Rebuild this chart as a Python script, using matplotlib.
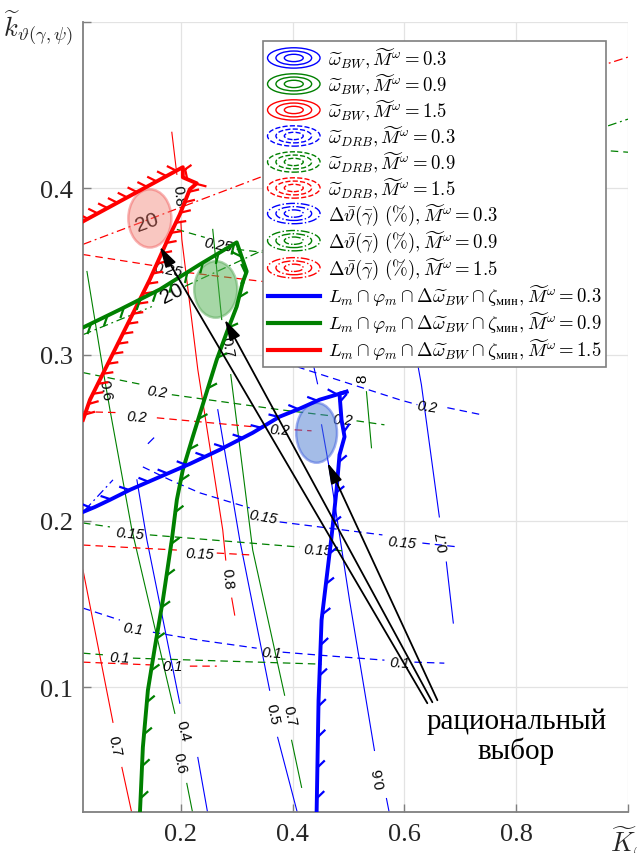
import numpy as np
import matplotlib
matplotlib.use('Agg')
import matplotlib.pyplot as plt
from matplotlib import patheffects
from matplotlib.patches import Ellipse
from matplotlib.lines import Line2D
from matplotlib.legend_handler import HandlerBase

nan = np.nan

# thick boundaries L_m ∩ φ_m ∩ Δω_BW ∩ ζ_мин
red_bnd_x = [0.025, 0.1143, 0.2036, 0.2036, 0.2286, 0.2161, 0.1982, 0.1768, 0.1446, 0.1089, 0.0643, 0.0375, 0.025]
red_bnd_y = [0.3801, 0.3964, 0.4127, 0.4066, 0.4030, 0.3994, 0.3843, 0.3693, 0.3452, 0.3211, 0.2910, 0.2729, 0.2608]
green_top_x = [0.025, 0.0911, 0.1625, 0.2339, 0.30, 0.3179, 0.3107]
green_top_y = [0.3163, 0.3271, 0.3392, 0.3542, 0.3675, 0.3500, 0.3434]
green_side_x = [0.3107, 0.30, 0.2821, 0.2643, 0.2214, 0.2036, 0.1929, 0.1839, 0.1679, 0.1536, 0.1411, 0.1321, 0.1268]
green_side_y = [0.3434, 0.3289, 0.3133, 0.2970, 0.2506, 0.2307, 0.2127, 0.1886, 0.1524, 0.1241, 0.0982, 0.0639, 0.0241]
blue_top_x = [0.025, 0.0464, 0.0732, 0.1089, 0.1625, 0.2161, 0.2696, 0.3286, 0.3768, 0.4125, 0.4482, 0.4964]
blue_top_y = [0.2054, 0.2084, 0.2127, 0.2187, 0.2265, 0.2343, 0.2428, 0.2530, 0.2627, 0.2675, 0.2729, 0.2777]
blue_side_x = [0.4964, 0.4839, 0.4875, 0.4929, 0.4839, 0.4786, 0.4696, 0.4518, 0.4464, 0.4429]
blue_side_y = [0.2777, 0.2765, 0.2608, 0.2506, 0.2398, 0.2187, 0.1904, 0.1404, 0.0922, 0.0241]

# omega_BW contours (solid)
red08_x = [0.1839, 0.1929, nan, 0.2000, 0.2018, 0.2304, 0.2750, 0.2804, nan, 0.2911, 0.2964]
red08_y = [0.4337, 0.4084, nan, 0.3801, 0.3693, 0.2910, 0.1946, 0.1765, nan, 0.1536, 0.1434]
red07_x = [0.025, 0.0786, nan, 0.0946, 0.1125]
red07_y = [0.1705, 0.0789, nan, 0.0518, 0.0241]
green06_x = [0.0321, 0.0607, 0.0732, 0.1125, 0.1893, nan, 0.2107, 0.2214]
green06_y = [0.3500, 0.2910, 0.2669, 0.1946, 0.0843, nan, 0.0422, 0.0241]
green07_x = [0.2571, 0.2732, nan, 0.2893, 0.3286, 0.3857, nan, 0.3982, 0.4161]
green07_y = [0.3753, 0.3211, nan, 0.2880, 0.1825, 0.0952, nan, 0.0681, 0.0398]
green08_x = [0.5321, 0.5411]
green08_y = [0.2777, 0.2440]
blue04_x = [0.1214, 0.1393, 0.1982, nan, 0.2304, 0.2482]
blue04_y = [0.2247, 0.1886, 0.0904, nan, 0.0578, 0.0241]
blue05_x = [0.2661, 0.3054, 0.3589, nan, 0.3732, 0.4089]
blue05_y = [0.2669, 0.1886, 0.0982, nan, 0.0699, 0.0241]
blue06_x = [0.4518, 0.4661, 0.5018, 0.5464, nan, 0.5679, 0.5732]
blue06_y = [0.2578, 0.2307, 0.1524, 0.0620, nan, 0.0331, 0.0241]
blue07_x = [0.6125, 0.6304, 0.6625, nan, 0.6750, 0.6875]
blue07_y = [0.3151, 0.2819, 0.2024, nan, 0.1753, 0.1386]
blue08_x = [0.4375, 0.4446]
blue08_y = [0.2934, 0.2825]

# omega_DRB contours (dashed)
red_d025_x = [0.025, 0.15, nan, 0.2107, 0.3464, 0.45]
red_d025_y = [0.3602, 0.3536, nan, 0.3494, 0.3440, 0.3380]
green_d025_x = [0.1929, 0.2429, nan, 0.30, 0.35, 0.45]
green_d025_y = [0.3753, 0.3705, nan, 0.3633, 0.3614, 0.3580]
green_d03_x = [0.88, 1.0]
green_d03_y = [0.4247, 0.4217]
green_d02_x = [0.025, 0.1321, nan, 0.1839, 0.3768, 0.4661, nan, 0.5143, 0.5643]
green_d02_y = [0.2892, 0.2819, nan, 0.2759, 0.2669, 0.2633, nan, 0.2602, 0.2578]
red_d02_x = [0.025, 0.0911, nan, 0.1571, 0.35, nan, 0.4036, 0.4339]
red_d02_y = [0.2657, 0.2651, nan, 0.2620, 0.2560, nan, 0.2548, 0.2542]
blue_d02_x = [0.39, 0.4125, 0.5911, 0.6232, nan, 0.6768, 0.7375]
blue_d02_y = [0.2970, 0.2922, 0.2729, 0.2699, nan, 0.2681, 0.2639]
blue_d015_x = [0.1321, 0.1804, 0.2339, 0.3232, nan, 0.3768, 0.4482, 0.5607, nan, 0.6321, 0.6982]
blue_d015_y = [0.2325, 0.2247, 0.2169, 0.2078, nan, 0.1994, 0.1964, 0.1916, nan, 0.1867, 0.1843]
green_d015_x = [0.025, 0.0732, nan, 0.1446, 0.4125, nan, 0.475, 0.4929]
green_d015_y = [0.1988, 0.1964, nan, 0.1916, 0.1843, nan, 0.1825, 0.1819]
red_d015_x = [0.025, 0.1929, nan, 0.2643, 0.3286]
red_d015_y = [0.1855, 0.1825, nan, 0.1807, 0.1795]
blue_d01_x = [0.025, 0.0911, nan, 0.15, 0.2339, 0.3357, nan, 0.3821, 0.4482, 0.5643, nan, 0.6179, 0.6714]
blue_d01_y = [0.1476, 0.1404, nan, 0.1331, 0.1283, 0.1235, nan, 0.1211, 0.1193, 0.1163, nan, 0.1151, 0.1145]
green_d01_x = [0.025, 0.0696, nan, 0.1143, 0.4518]
green_d01_y = [0.1205, 0.1193, nan, 0.1175, 0.1139]
red_d01_x = [0.025, 0.1571, nan, 0.2161, 0.2643]
red_d01_y = [0.1151, 0.1133, nan, 0.1127, 0.1127]

# delta theta contours (dash-dot)
red_dd_x = [0.025, 0.3464, 0.6804, 1.0]
red_dd_y = [0.3663, 0.4072, 0.4446, 0.4789]
green_dd_x = [0.025, 0.1482, nan, 0.2071, 0.35, 0.6804, 1.0]
green_dd_y = [0.312, 0.3289, nan, 0.341, 0.3633, 0.4054, 0.4416]
blue_dd_x = [0.0286, 0.0786, nan, 0.1411, 0.1554]
blue_dd_y = [0.2066, 0.2247, nan, 0.2464, 0.2512]

# contour labels: text, x, y, rotation
solid_labels = [('0.8', 0.1946, 0.3958, -85), ('0.8', 0.2839, 0.1657, -85),
                ('0.7', 0.0821, 0.0650, -78), ('0.6', 0.1982, 0.0548, -78),
                ('0.4', 0.2036, 0.0741, -76), ('0.7', 0.2821, 0.3048, -80),
                ('0.5', 0.3643, 0.0843, -78), ('0.7', 0.3946, 0.0831, -78),
                ('0.6', 0.5554, 0.0458, 100), ('0.7', 0.6679, 0.1886, 100),
                ('0.6', 0.0643, 0.2789, -80), ('8', 0.525, 0.2862, 90)]
dashed_labels = [('0.25', 0.2661, 0.3663, -10), ('0.25', 0.1768, 0.3512, -10),
                 ('0.2', 0.1571, 0.2777, -8), ('0.2', 0.1214, 0.2627, -3),
                 ('0.2', 0.3768, 0.2548, -3), ('0.2', 0.4893, 0.2608, -3),
                 ('0.2', 0.6411, 0.2687, -8), ('0.15', 0.3464, 0.2024, -10),
                 ('0.15', 0.5964, 0.1873, -5), ('0.15', 0.1089, 0.1928, -5),
                 ('0.15', 0.4446, 0.1825, -3), ('0.15', 0.2339, 0.1807, -2),
                 ('0.1', 0.1143, 0.1355, -8), ('0.1', 0.3625, 0.1211, -3),
                 ('0.1', 0.5911, 0.1151, -3), ('0.1', 0.0911, 0.1181, -2),
                 ('0.1', 0.1857, 0.1127, 0)]
dd_labels = [('20', 0.1393, 0.3801, 20), ('20', 0.1839, 0.3373, 27)]

# rational choice areas (centre x, centre y, width, height)
opt_red = [0.1446, 0.3819, 0.077, 0.035]
opt_green = [0.2625, 0.3392, 0.077, 0.034]
opt_blue = [0.4429, 0.2530, 0.073, 0.036]

# arrows from caption to the areas
arrow_tip_x = [0.1625, 0.2786, 0.4625]
arrow_tip_y = [0.365, 0.3211, 0.235]
arrow_tail_x = [0.641, 0.650, 0.659]
arrow_tail_y = [0.0904, 0.0910, 0.0922]

xticks = [0.2, 0.4, 0.6, 0.8, 1.0]
yticks = [0.1, 0.2, 0.3, 0.4, 0.5]

plt.rcParams['mathtext.fontset'] = 'cm'
plt.rcParams['font.family'] = ['Liberation Serif', 'DejaVu Serif']

fig = plt.figure(figsize=(6.37, 8.54), dpi=100)
ax = fig.add_axes([83/637, 41/854, 545/637, 790/854])

R, G, B = '#ff0000', '#008000', '#0000ff'

# thin contours
for xs, ys, c in [(red08_x, red08_y, R), (red07_x, red07_y, R), (green06_x, green06_y, G),
                  (green07_x, green07_y, G), (green08_x, green08_y, G), (blue04_x, blue04_y, B),
                  (blue05_x, blue05_y, B), (blue06_x, blue06_y, B), (blue07_x, blue07_y, B),
                  (blue08_x, blue08_y, B)]:
    ax.plot(xs, ys, color=c, lw=0.8, zorder=2)

for xs, ys, c in [(red_d025_x, red_d025_y, R), (green_d025_x, green_d025_y, G), (green_d03_x, green_d03_y, G),
                  (green_d02_x, green_d02_y, G), (red_d02_x, red_d02_y, R), (blue_d02_x, blue_d02_y, B),
                  (blue_d015_x, blue_d015_y, B), (green_d015_x, green_d015_y, G), (red_d015_x, red_d015_y, R),
                  (blue_d01_x, blue_d01_y, B), (green_d01_x, green_d01_y, G), (red_d01_x, red_d01_y, R)]:
    ax.plot(xs, ys, color=c, lw=0.9, ls=(0, (6, 4)), zorder=2)

for xs, ys, c in [(red_dd_x, red_dd_y, R), (green_dd_x, green_dd_y, G), (blue_dd_x, blue_dd_y, B)]:
    ax.plot(xs, ys, color=c, lw=0.9, ls=(0, (7, 3, 1.5, 3)), zorder=2)

for t, x, y, r in solid_labels:
    ax.text(x, y, t, rotation=r, ha='center', va='center', fontsize=11,
            family='Liberation Sans', zorder=3, rotation_mode='anchor')
for t, x, y, r in dashed_labels:
    ax.text(x, y, t, rotation=r, ha='center', va='center', fontsize=10.5, style='italic',
            family='Liberation Sans', zorder=3, rotation_mode='anchor')
for t, x, y, r in dd_labels:
    ax.text(x, y, t, rotation=r, ha='center', va='center', fontsize=15,
            family='Liberation Sans', zorder=3, rotation_mode='anchor')

# rational choice ellipses
for (cx, cy, w, h), fc, ec, a in [(opt_red, '#f27a6c', '#f05050', 0.42), (opt_green, '#4fb04f', '#5aaa5a', 0.5),
                                  (opt_blue, '#4a7bd0', '#4060e0', 0.5)]:
    ax.add_patch(Ellipse((cx, cy), w, h, facecolor=fc, alpha=a, edgecolor=ec, lw=1.8, zorder=3.5))

# thick hatched boundaries
def ticked(spacing, angle, length):
    return [patheffects.withTickedStroke(spacing=spacing, angle=angle, length=length, linewidth=1.6)]

ax.plot(red_bnd_x, red_bnd_y, color=R, lw=2.8, zorder=4, path_effects=ticked(8, 125, 0.85))
ax.plot(green_top_x, green_top_y, color=G, lw=2.8, zorder=4, path_effects=ticked(13, -135, 0.55))
ax.plot(green_side_x, green_side_y, color=G, lw=2.8, zorder=4, path_effects=ticked(22, 135, 0.3))
ax.plot(blue_top_x, blue_top_y, color=B, lw=2.8, zorder=4, path_effects=ticked(14, 135, 0.5))
ax.plot(blue_side_x, blue_side_y, color=B, lw=2.8, zorder=4, path_effects=ticked(22, 135, 0.3))

for tx, ty, sx, sy in zip(arrow_tip_x, arrow_tip_y, arrow_tail_x, arrow_tail_y):
    ax.annotate('', xy=(tx, ty), xytext=(sx, sy), zorder=6,
                arrowprops=dict(arrowstyle='-|>,head_length=0.9,head_width=0.25', color='k',
                                lw=1.3, mutation_scale=14, shrinkA=0, shrinkB=0))

ax.text(0.80, 0.071, 'рациональный\nвыбор', ha='center', va='center', fontsize=21,
        linespacing=1.1, zorder=6)

# legend
class Rings(Line2D):
    pass

class RingHandler(HandlerBase):
    def create_artists(self, legend, orig, xd, yd, w, h, fontsize, trans):
        cx, cy = xd + w / 2, yd + h / 2
        out = []
        for k in (1.0, 0.68, 0.36):
            out.append(Ellipse((cx, cy), w * k, h * 1.55 * k, fill=False, edgecolor=orig.get_color(),
                               linestyle=orig.get_linestyle(), lw=1.0, transform=trans))
        return out

handles, labels = [], []
for ls, name in [('-', r'\widetilde{\omega}_{BW}'), ('--', r'\widetilde{\omega}_{DRB}'),
                 ('-.', r'\Delta\bar{\vartheta}(\bar{\gamma})\ (\%)')]:
    for c, m in [(B, '0.3'), (G, '0.9'), (R, '1.5')]:
        handles.append(Rings([], [], color=c, ls=ls))
        labels.append(r'$' + name + r', \widetilde{M}^{\omega} = ' + m + '$')
for c, m in [(B, '0.3'), (G, '0.9'), (R, '1.5')]:
    handles.append(Line2D([], [], color=c, lw=3))
    labels.append(r'$L_m \cap \varphi_m \cap \Delta\widetilde{\omega}_{BW} \cap \zeta_{\mathrm{мин}}, '
                  r'\widetilde{M}^{\omega} = ' + m + '$')

leg = ax.legend(handles, labels, handler_map={Rings: RingHandler()}, loc='upper left',
                bbox_to_anchor=(0.330, 0.976), borderaxespad=0, fancybox=False, framealpha=1,
                edgecolor='#7f7f7f', fontsize=13.5, handlelength=2.8, handletextpad=0.4,
                labelspacing=0.087, borderpad=0.25)
leg.get_frame().set_linewidth(1.2)
leg.set_zorder(10)

# axes
ax.set_xlim(0.025, 1.0)
ax.set_ylim(0.025, 0.5)
ax.set_xticks(xticks)
ax.set_yticks(yticks)
xl = ax.set_xticklabels(['0.2', '0.4', '0.6', '0.8', r'$\widetilde{K}_{\omega}$'])
yl = ax.set_yticklabels(['0.1', '0.2', '0.3', '0.4', r'$\widetilde{k}_{\vartheta(\gamma,\psi)}$'])
xl[-1].set_fontsize(22)
yl[-1].set_fontsize(20)
ax.tick_params(direction='in', length=6, width=1, color='#7f7f7f', labelsize=19,
               labelcolor='#262626')
ax.tick_params(axis='x', pad=8)
ax.tick_params(axis='y', pad=7)
ax.grid(True, color='#e3e3e3', lw=0.9, zorder=0)
ax.set_axisbelow(True)
for s in ['top', 'right']:
    ax.spines[s].set_visible(False)
for s in ['left', 'bottom']:
    ax.spines[s].set_color('#7f7f7f')
    ax.spines[s].set_linewidth(1.3)

fig.savefig('out.png', dpi=100)
